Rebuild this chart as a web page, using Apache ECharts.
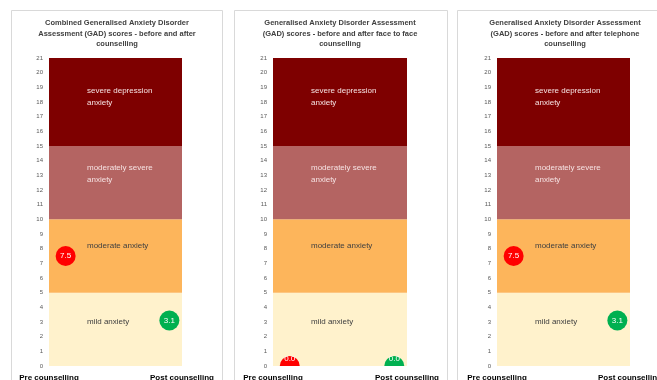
<!DOCTYPE html>
<html>
<head>
<meta charset="utf-8">
<script src="https://cdn.jsdelivr.net/npm/echarts@6/dist/echarts.min.js"></script>
<style>
  html, body { margin: 0; padding: 0; background: #ffffff; }
  #chart { width: 657px; height: 380px; }
</style>
</head>
<body>
<div id="chart"></div>
<script>
// GAD score categories and values
const categories = ['Pre counselling', 'Post counselling'];
const panelTitles = [
  'Combined Generalised Anxiety Disorder\nAssessment (GAD) scores - before and after\ncounselling',
  'Generalised Anxiety Disorder Assessment\n(GAD) scores - before and after face to face\ncounselling',
  'Generalised Anxiety Disorder Assessment\n(GAD) scores - before and after telephone\ncounselling'
];
const combinedScores = [7.5, 3.1];
const faceToFaceScores = [0.0, 0.0];
const telephoneScores = [7.5, 3.1];

// Severity bands: lower/upper GAD score bounds and names
const bandLower = [0, 5, 10, 15];
const bandUpper = [5, 10, 15, 21];
const bandNames = ['mild anxiety', 'moderate anxiety', 'moderately severe\nanxiety', 'severe depression\nanxiety'];
const yMin = 0, yMax = 21, yStep = 1;

// ---- styling / layout ----
const FONT = 'Liberation Sans';
const bandColors = ['#FFF2CC', '#FDB55B', '#B46462', '#7E0000'];
const bandTextColors = ['#404040', '#404040', '#F6E2E2', '#F6E2E2'];
const bandLabelPos = [[38, 23], [38, 20], [38, 16], [38, 27]];
const pointColors = ['#FF0000', '#00B050'];
const pointXPos = [0.125, 0.905];   // horizontal placement of Pre / Post markers in each plot

const panels = [
  { frame: [11.5, 10.5, 211, 420], plot: [49, 133], center: 117, scores: combinedScores },
  { frame: [234.5, 10.5, 213, 420], plot: [273, 134], center: 340, scores: faceToFaceScores },
  { frame: [457.5, 10.5, 215, 420], plot: [497, 133], center: 565, scores: telephoneScores }
];

const chart = echarts.init(document.getElementById('chart'), null, { renderer: 'canvas' });

const grid = [], xAxis = [], yAxis = [], series = [], title = [], graphic = [];

panels.forEach((p, i) => {
  graphic.push({
    type: 'rect', z: 0, silent: true,
    shape: { x: p.frame[0], y: p.frame[1], width: p.frame[2], height: p.frame[3] },
    style: { fill: '#ffffff', stroke: '#D9D9D9', lineWidth: 1 }
  });
  title.push({
    text: panelTitles[i],
    left: p.center, top: 18, padding: 0, textAlign: 'center',
    textStyle: { fontFamily: FONT, fontSize: 7.5, fontWeight: 'bold', color: '#404040', lineHeight: 10.5 }
  });
  grid.push({
    left: p.plot[0], width: p.plot[1], top: 58, height: 308,
    containLabel: false, outerBoundsMode: 'none'
  });
  xAxis.push({
    gridIndex: i, type: 'value', min: 0, max: 1, interval: 1,
    axisLine: { show: false }, axisTick: { show: false }, splitLine: { show: false },
    axisLabel: {
      show: true, margin: 8, showMinLabel: true, showMaxLabel: true, hideOverlap: false,
      fontFamily: FONT, fontSize: 8, fontWeight: 'bold', color: '#000000',
      formatter: v => categories[Math.round(v)]
    }
  });
  yAxis.push({
    gridIndex: i, type: 'value', min: yMin, max: yMax, interval: yStep,
    axisLine: { show: false }, axisTick: { show: false }, splitLine: { show: false },
    axisLabel: { margin: 6, fontFamily: FONT, fontSize: 6, color: '#595959' }
  });
  // severity bands
  series.push({
    type: 'line', xAxisIndex: i, yAxisIndex: i, data: [], silent: true, z: 1,
    markArea: {
      silent: true,
      data: bandLower.map((lo, b) => [
        {
          yAxis: lo,
          itemStyle: { color: bandColors[b], opacity: 1 },
          label: {
            show: true, position: bandLabelPos[b], formatter: bandNames[b],
            fontFamily: FONT, fontSize: 8, lineHeight: 12, color: bandTextColors[b], align: 'left'
          }
        },
        { yAxis: bandUpper[b] }
      ])
    }
  });
  // score markers
  series.push({
    type: 'custom', xAxisIndex: i, yAxisIndex: i, z: 5, clip: true,
    data: p.scores.map((v, k) => [pointXPos[k], v]),
    renderItem: (params, api) => {
      const pt = api.coord([api.value(0), api.value(1)]);
      const bottom = params.coordSys.y + params.coordSys.height;
      const ty = Math.min(pt[1], bottom - 7);
      return {
        type: 'group',
        children: [
          { type: 'circle', shape: { cx: pt[0], cy: pt[1], r: 10 }, style: { fill: pointColors[params.dataIndex] } },
          {
            type: 'text',
            style: {
              text: api.value(1).toFixed(1), x: pt[0], y: ty,
              align: 'center', verticalAlign: 'middle',
              fill: '#ffffff', font: '8px ' + FONT
            }
          }
        ]
      };
    }
  });
});

chart.setOption({
  backgroundColor: '#ffffff',
  animation: false,
  title, grid, xAxis, yAxis, series, graphic
});
</script>
</body>
</html>
